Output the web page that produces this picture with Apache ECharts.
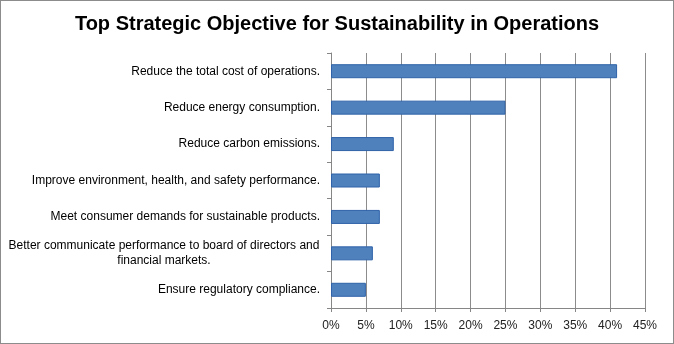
<!DOCTYPE html>
<html><head><meta charset="utf-8">
<script src="https://cdn.jsdelivr.net/npm/echarts@6/dist/echarts.min.js"></script>
<style>html,body{margin:0;padding:0;background:#fff}#c{width:674px;height:344px;box-sizing:border-box;border:1px solid #8c8c8c}</style>
</head><body><div id="c"></div>
<script>
const titleText = 'Top Strategic Objective for Sustainability in Operations';
const categories = [
  'Reduce the total cost of operations.',
  'Reduce energy consumption.',
  'Reduce carbon emissions.',
  'Improve environment, health, and safety performance.',
  'Meet consumer demands for sustainable products.',
  'Better communicate performance to board of directors and\nfinancial markets.',
  'Ensure regulatory compliance.'
];
const values = [41, 25, 9, 7, 7, 6, 5];
const xMin = 0, xMax = 45, xStep = 5;

const chart = echarts.init(document.getElementById('c'), null, {renderer: 'canvas'});
chart.setOption({
  animation: false,
  backgroundColor: '#fff',
  title: {
    text: titleText, left: 'center', top: 8,
    textStyle: {fontFamily: 'Liberation Sans', fontWeight: 'bold', fontSize: 20, color: '#000'}
  },
  grid: {left: 330, right: 28, top: 52, bottom: 35, containLabel: false},
  xAxis: {
    type: 'value', min: xMin, max: xMax, interval: xStep,
    axisLine: {show: true, lineStyle: {color: '#868686'}},
    axisTick: {show: true, inside: false, length: 4, lineStyle: {color: '#868686'}},
    axisLabel: {formatter: '{value}%', color: '#222', fontFamily: 'Liberation Sans', fontSize: 12, margin: 12},
    splitLine: {show: true, lineStyle: {color: '#8c8c8c', width: 1}}
  },
  yAxis: {
    type: 'category', inverse: true, data: categories,
    axisLine: {show: true, lineStyle: {color: '#868686'}},
    axisTick: {show: true, inside: false, length: 4, lineStyle: {color: '#868686'}},
    axisLabel: {
      color: '#000', fontFamily: 'Liberation Sans', fontSize: 12, margin: 11,
      formatter: function (v) {
        if (v.indexOf('\n') >= 0) {
          return v.split('\n').map(function (s) { return '{c|' + s + '}'; }).join('\n');
        }
        return v;
      },
      rich: {c: {width: 312, align: 'center', fontFamily: 'Liberation Sans', fontSize: 12, color: '#000', lineHeight: 15}}
    }
  },
  series: [{
    type: 'bar', data: values, barWidth: 14,
    itemStyle: {color: '#4F81BD', borderColor: '#2F62A8', borderWidth: 1}
  }]
});
</script></body></html>
